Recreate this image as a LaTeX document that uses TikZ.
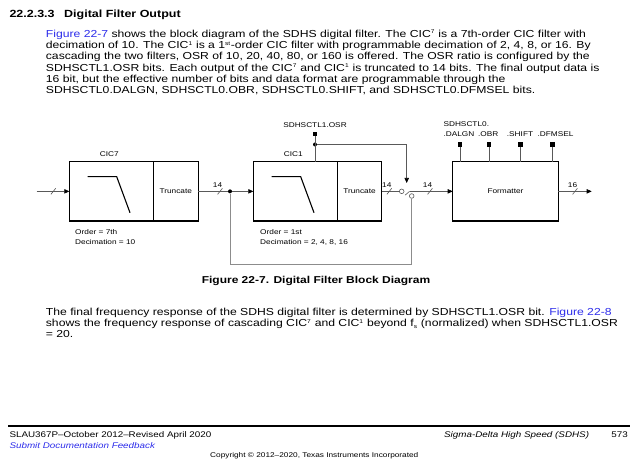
\documentclass[tikz,border=0pt]{standalone}
\usepackage{fontspec}
\setmainfont[FakeStretch=1.2]{Liberation Sans}
\usetikzlibrary{arrows.meta,positioning}
\definecolor{tilink}{RGB}{45,45,235}
\newcommand\sps[1]{\textsuperscript{\fontsize{5.5}{6}\selectfont #1}}

\begin{document}
\begin{tikzpicture}[x=1pt, y=-1pt, >={Triangle[length=5pt,width=4.4pt,color=black]},
    blk/.style={draw, line width=1.1pt, inner sep=0pt, outer sep=0pt, minimum height=59.3pt},
    lbl/.style={inner sep=0pt, font=\fontsize{6.9}{8}\selectfont},
    sig/.style={draw=black!65, line width=0.6pt},
    fb/.style={draw=black!45, line width=0.7pt},
    ctlsq/.style={fill=black, inner sep=0pt, minimum size=4.5pt},
    jdot/.style={circle, fill=black, inner sep=0pt, minimum size=4pt},
    swpin/.style={circle, draw=black!65, line width=0.6pt, inner sep=0pt, minimum size=4.6pt},
    body/.style={anchor=base west, inner sep=0pt, font=\fontsize{10.15}{11.2}\selectfont},
    foot/.style={anchor=base west, inner sep=0pt, font=\fontsize{8.2}{10}\selectfont},
    pics/slash/.style={code={\draw[sig] (-2.4,3) -- (2.4,-3);}},
    pics/bus/.style={code={\pic{slash}; \node[lbl] (-n) at (-2.5,-6.5) {#1};}}]
    \fill[white] (0,0) rectangle (640,462);
    \useasboundingbox (0,0) rectangle (640,462);

    % heading and first paragraph
    \node[anchor=base west, inner sep=0pt, font=\bfseries\fontsize{10.4}{12}\selectfont] (secno) at (9.3,18) {22.2.3.3};
    \node[anchor=base west, inner sep=0pt, font=\bfseries\fontsize{10.4}{12}\selectfont] (sectitle) at (64,18) {Digital Filter Output};
    \node[body] (p1a) at (45.7,37.5) {\textcolor{tilink}{Figure 22-7} shows the block diagram of the SDHS digital filter. The CIC\sps{7} is a 7th-order CIC filter with};
    \node[body] (p1b) at (45.7,48.7) {decimation of 10. The CIC\sps{1} is a 1\sps{st}-order CIC filter with programmable decimation of 2, 4, 8, or 16. By};
    \node[body] (p1c) at (45.7,59.9) {cascading the two filters, OSR of 10, 20, 40, 80, or 160 is offered. The OSR ratio is configured by the};
    \node[body] (p1d) at (45.7,71.1) {SDHSCTL1.OSR bits. Each output of the CIC\sps{7} and CIC\sps{1} is truncated to 14 bits. The final output data is};
    \node[body] (p1e) at (45.7,82.3) {16 bit, but the effective number of bits and data format are programmable through the};
    \node[body] (p1f) at (45.7,93.5) {SDHSCTL0.DALGN, SDHSCTL0.OBR, SDHSCTL0.SHIFT, and SDHSCTL0.DFMSEL bits.};

    % blocks
    \node[blk, minimum width=84pt] (cic7f) at (111.3,191.35) {};
    \node[blk, lbl, minimum width=45pt, minimum height=59.3pt, right=0pt of cic7f] (cic7t) {Truncate};
    \node[blk, minimum width=84pt] (cic1f) at (295.3,191.35) {};
    \node[blk, lbl, minimum width=44.4pt, minimum height=59.3pt, right=0pt of cic1f] (cic1t) {Truncate};
    \node[blk, lbl, minimum width=105.6pt, minimum height=59.3pt] (fmt) at (505.5,191.35) {Formatter};
    \foreach \f in {cic7f,cic1f}
        \draw[line width=1.1pt] ([shift={(18.4,15)}]\f.north west) -- ++(29,0) -- ++(13.3,36);

    \node[lbl] (cic7lbl) at (109.3,154.3) {CIC7};
    \node[lbl] (cic1lbl) at (293.3,154.3) {CIC1};
    \node[lbl, anchor=base west] (ord7) at (75,235) {Order = 7th};
    \node[lbl, anchor=base west] (dec7) at (75,244.6) {Decimation = 10};
    \node[lbl, anchor=base west] (ord1) at (260,235) {Order = 1st};
    \node[lbl, anchor=base west] (dec1) at (260,244.6) {Decimation = 2, 4, 8, 16};

    % signal path
    \coordinate (in) at (36.7,191.35);
    \draw[sig,->] (in) -- (cic7f);
    \pic at (53.3,191.35) {slash};
    \node[jdot] (dot1) at (230,191.35) {};
    \draw[sig] (cic7t) -- (dot1);
    \draw[sig,->] (dot1) -- (cic1f);
    \pic (b1) at (220,191.35) {bus=14};

    \node[swpin] (swa) at (401.7,191.35) {};
    \node[swpin] (swb) at (411.7,196) {};
    \draw[sig] (cic1t) -- (swa);
    \pic (b2) at (389.3,191.35) {bus=14};
    \coordinate (piv) at (409.6,191.35);
    \coordinate (blade) at (405,195.2);
    \draw[sig] (blade) -- (piv);
    \draw[sig,->] (piv) -- (fmt);
    \pic (b3) at (430,191.35) {bus=14};

    \coordinate (fbl) at (230,264);
    \draw[fb] (dot1) -- (fbl) -| (swb);

    % OSR control
    \node[lbl] (osrlbl) at (315,125) {SDHSCTL1.OSR};
    \node[ctlsq] (sqosr) at (315,134) {};
    \node[jdot] (dot2) at (315,144.5) {};
    \draw[sig] (sqosr) -- (sqosr |- cic1f.north);
    \coordinate (osrtip) at (406.7,183);
    \draw[sig,->] (dot2) -| (osrtip);

    % formatter control
    \node[lbl, anchor=west] (ctl0) at (443.3,124.3) {SDHSCTL0.};
    \foreach \x/\lx/\n/\t in {460/459/dalgn/.DALGN, 489/488.2/obr/.OBR, 520.7/520/shift/.SHIFT, 552.3/555.5/dfmsel/.DFMSEL} {
        \node[lbl] (\n) at (\lx,134) {\t};
        \node[ctlsq] (sq\n) at (\x,144.3) {};
        \draw[sig] (sq\n) -- (sq\n |- fmt.north);
    }

    \coordinate (out) at (591.7,191.35);
    \draw[sig,->] (fmt) -- (out);
    \pic (b4) at (575,191.35) {bus=16};

    \node[anchor=base, inner sep=0pt, font=\bfseries\fontsize{10}{12}\selectfont] (cap) at (316,283.5) {Figure 22-7. Digital Filter Block Diagram};

    % second paragraph
    \node[body] (p2a) at (45.7,315.5) {The final frequency response of the SDHS digital filter is determined by SDHSCTL1.OSR bit. \textcolor{tilink}{Figure 22-8}};
    \node[body] (p2b) at (45.7,326.7) {shows the frequency response of cascading CIC\sps{7} and CIC\sps{1} beyond f\textsubscript{\fontsize{5.5}{6}\selectfont s} (normalized) when SDHSCTL1.OSR};
    \node[body] (p2c) at (45.7,337.9) {= 20.};

    % footer
    \coordinate (rl) at (8.3,425.7);
    \coordinate (rr) at (630,425.7);
    \draw[line width=1.7pt] (rl) -- (rr);
    \node[foot] (docid) at (9.3,437.5) {SLAU367P--October 2012--Revised April 2020};
    \node[foot, text=tilink, font=\itshape\fontsize{8.2}{10}\selectfont] (fbk) at (9.3,448.3) {Submit Documentation Feedback};
    \node[foot, anchor=base east, font=\itshape\fontsize{8.2}{10}\selectfont] (chap) at (589.3,437.5) {Sigma-Delta High Speed (SDHS)};
    \node[foot, anchor=base east] (pgno) at (628,437.5) {573};
    \node[anchor=base west, inner sep=0pt, font=\fontsize{6.9}{8}\selectfont] (copy) at (210,457) {Copyright © 2012--2020, Texas Instruments Incorporated};
\end{tikzpicture}
\end{document}
